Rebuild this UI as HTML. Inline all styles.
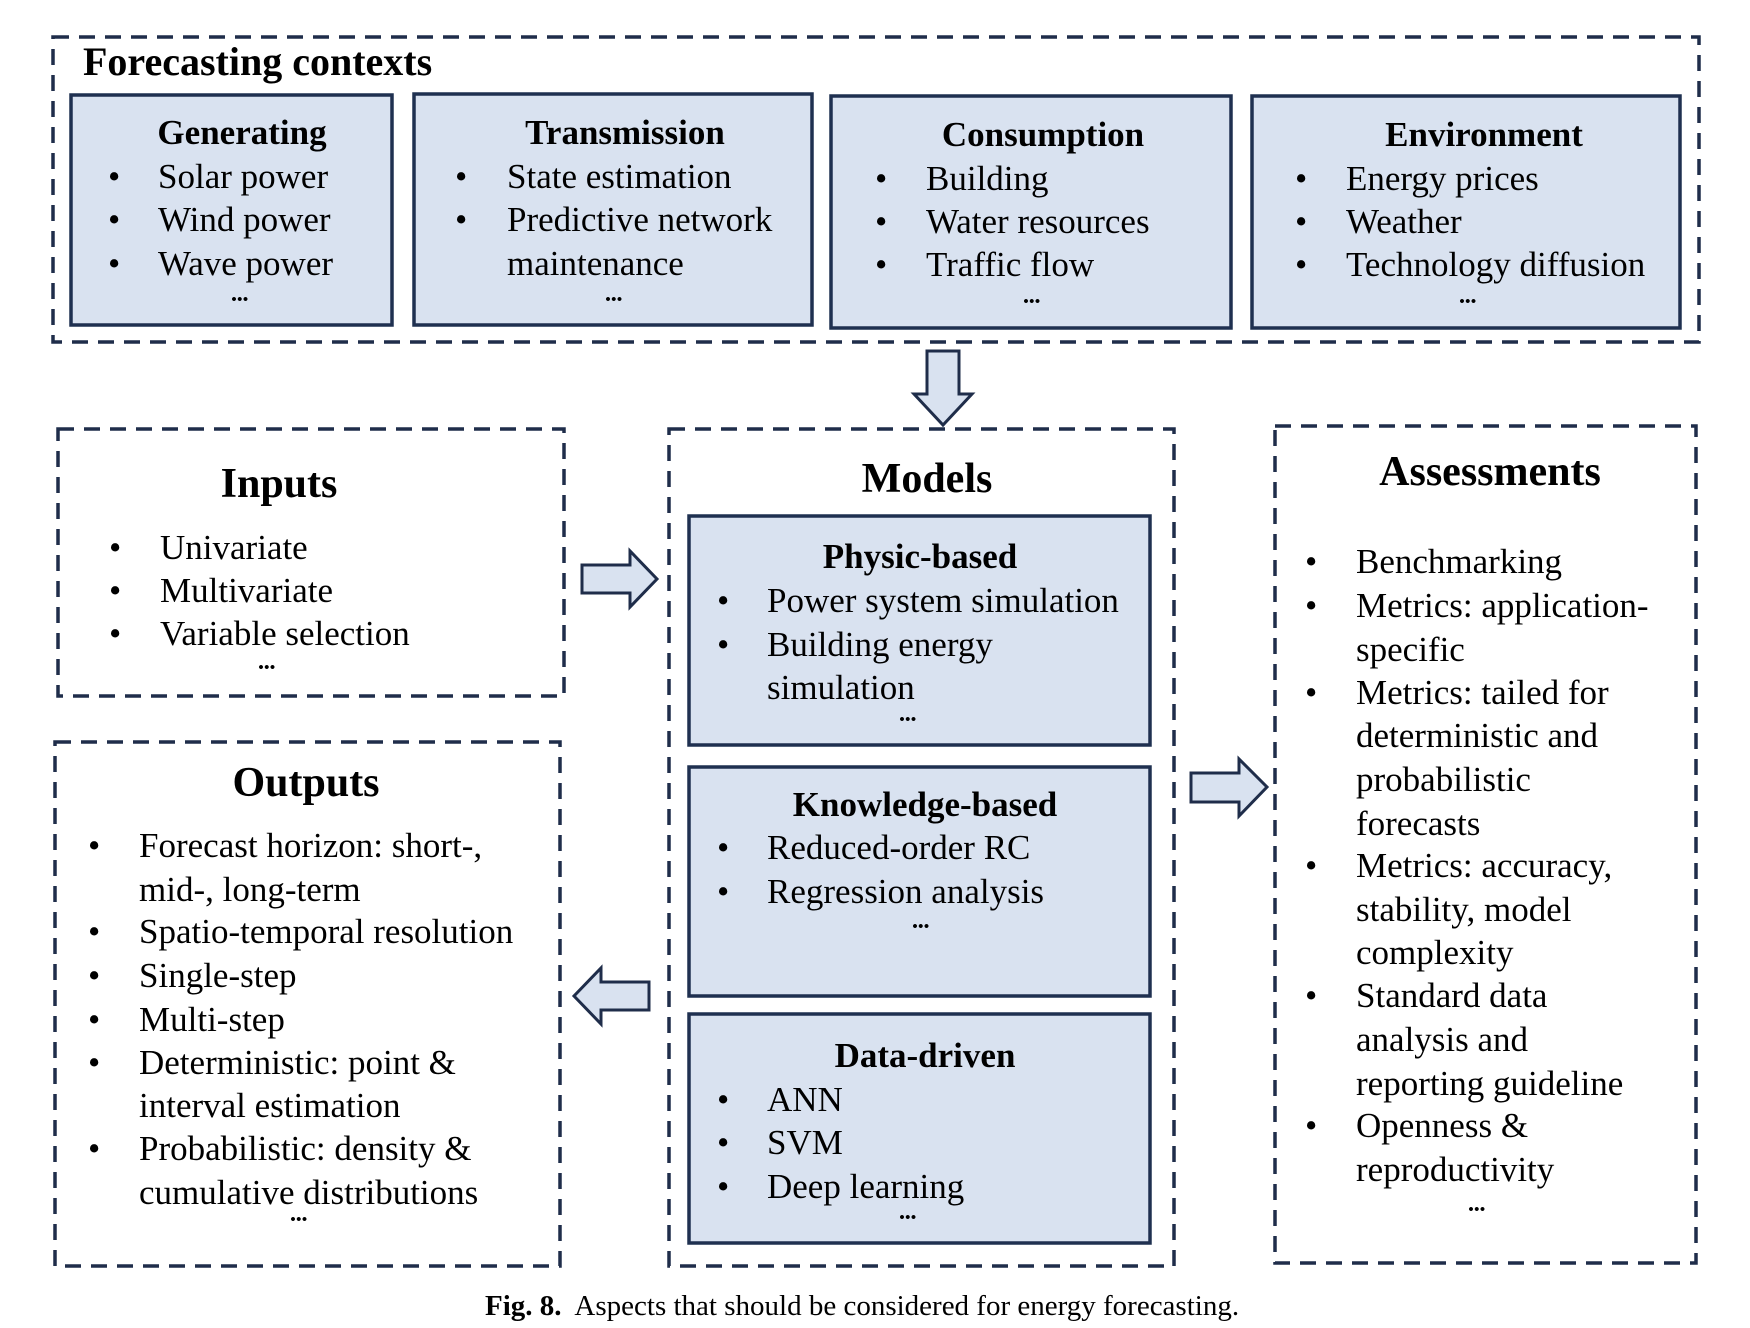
<!DOCTYPE html>
<html><head><meta charset="utf-8"><style>
body{margin:0;background:#fff;}
#c{position:relative;width:1750px;height:1328px;overflow:hidden;font-family:"Liberation Serif",serif;color:#000;}
.t{position:absolute;height:44px;line-height:44px;white-space:nowrap;font-size:35px;}
.h{position:absolute;height:44px;line-height:44px;white-space:nowrap;font-size:35px;font-weight:bold;transform:translateX(-50%);}
.T{position:absolute;height:50px;line-height:50px;white-space:nowrap;font-size:42px;font-weight:bold;transform:translateX(-50%);}
.d{position:absolute;height:20px;line-height:20px;font-size:15px;font-weight:bold;transform:translateX(-50%);letter-spacing:0.5px;}
</style></head><body><div id="c">
<svg width="1750" height="1328" style="position:absolute;left:0;top:0">
<g fill="none" stroke="#1f2d4a" stroke-width="3.5" stroke-dasharray="16 10">
<rect x="53" y="37" width="1646" height="305"/>
<rect x="58" y="429" width="506" height="267"/>
<rect x="55" y="742" width="505" height="524"/>
<rect x="669" y="429" width="505" height="837"/>
<rect x="1275" y="426" width="421" height="837"/>
</g>
<g fill="#d9e2f0" stroke="#1f3050" stroke-width="3.5">
<rect x="71" y="95" width="321" height="230"/>
<rect x="414" y="94" width="398" height="231"/>
<rect x="831" y="96" width="400" height="232"/>
<rect x="1252" y="96" width="428" height="232"/>
<rect x="689" y="516" width="461" height="229"/>
<rect x="689" y="767" width="461" height="229"/>
<rect x="689" y="1014" width="461" height="229"/>
</g>
<g fill="#d9e2f0" stroke="#1f2d4a" stroke-width="3">
<polygon points="927,351 959,351 959,394 972,394 943,425 914,394 927,394"/>
<polygon points="582,565 630,565 630,551 657,579 630,607 630,593 582,593"/>
<polygon points="1191,773 1239,773 1239,759 1267,787 1239,816 1239,802 1191,802"/>
<polygon points="649,982 601,982 601,968 574,996 601,1024 601,1010 649,1010"/>
</g>
</svg>
<div class="t" style="left:83px;top:40px;font-size:40px;font-weight:bold;">Forecasting contexts</div>

<div class="h" style="left:242px;top:111px">Generating</div>
<div class="t" style="left:108px;top:155px">•</div><div class="t" style="left:158px;top:155px">Solar power</div>
<div class="t" style="left:108px;top:198px">•</div><div class="t" style="left:158px;top:198px">Wind power</div>
<div class="t" style="left:108px;top:242px">•</div><div class="t" style="left:158px;top:242px">Wave power</div>
<div class="d" style="left:240px;top:290px">•••</div>

<div class="h" style="left:625px;top:111px">Transmission</div>
<div class="t" style="left:455px;top:155px">•</div><div class="t" style="left:507px;top:155px">State estimation</div>
<div class="t" style="left:455px;top:198px">•</div><div class="t" style="left:507px;top:198px">Predictive network</div>
<div class="t" style="left:507px;top:242px">maintenance</div>
<div class="d" style="left:614px;top:290px">•••</div>

<div class="h" style="left:1043px;top:113px">Consumption</div>
<div class="t" style="left:875px;top:157px">•</div><div class="t" style="left:926px;top:157px">Building</div>
<div class="t" style="left:875px;top:200px">•</div><div class="t" style="left:926px;top:200px">Water resources</div>
<div class="t" style="left:875px;top:243px">•</div><div class="t" style="left:926px;top:243px">Traffic flow</div>
<div class="d" style="left:1032px;top:292px">•••</div>

<div class="h" style="left:1484px;top:113px">Environment</div>
<div class="t" style="left:1295px;top:157px">•</div><div class="t" style="left:1346px;top:157px">Energy prices</div>
<div class="t" style="left:1295px;top:200px">•</div><div class="t" style="left:1346px;top:200px">Weather</div>
<div class="t" style="left:1295px;top:243px">•</div><div class="t" style="left:1346px;top:243px">Technology diffusion</div>
<div class="d" style="left:1468px;top:292px">•••</div>

<div class="T" style="left:279px;top:459px">Inputs</div>
<div class="t" style="left:109px;top:526px">•</div><div class="t" style="left:160px;top:526px">Univariate</div>
<div class="t" style="left:109px;top:569px">•</div><div class="t" style="left:160px;top:569px">Multivariate</div>
<div class="t" style="left:109px;top:612px">•</div><div class="t" style="left:160px;top:612px">Variable selection</div>
<div class="d" style="left:267px;top:658px">•••</div>

<div class="T" style="left:306px;top:758px">Outputs</div>
<div class="t" style="left:88px;top:824px">•</div><div class="t" style="left:139px;top:824px">Forecast horizon: short-,</div>
<div class="t" style="left:139px;top:868px">mid-, long-term</div>
<div class="t" style="left:88px;top:910px">•</div><div class="t" style="left:139px;top:910px">Spatio-temporal resolution</div>
<div class="t" style="left:88px;top:954px">•</div><div class="t" style="left:139px;top:954px">Single-step</div>
<div class="t" style="left:88px;top:998px">•</div><div class="t" style="left:139px;top:998px">Multi-step</div>
<div class="t" style="left:88px;top:1041px">•</div><div class="t" style="left:139px;top:1041px">Deterministic: point &amp;</div>
<div class="t" style="left:139px;top:1084px">interval estimation</div>
<div class="t" style="left:88px;top:1127px">•</div><div class="t" style="left:139px;top:1127px">Probabilistic: density &amp;</div>
<div class="t" style="left:139px;top:1171px">cumulative distributions</div>
<div class="d" style="left:299px;top:1210px">•••</div>

<div class="T" style="left:927px;top:454px">Models</div>
<div class="h" style="left:920px;top:535px">Physic-based</div>
<div class="t" style="left:717px;top:579px">•</div><div class="t" style="left:767px;top:579px">Power system simulation</div>
<div class="t" style="left:717px;top:623px">•</div><div class="t" style="left:767px;top:623px">Building energy</div>
<div class="t" style="left:767px;top:666px">simulation</div>
<div class="d" style="left:908px;top:710px">•••</div>

<div class="h" style="left:925px;top:783px">Knowledge-based</div>
<div class="t" style="left:717px;top:826px">•</div><div class="t" style="left:767px;top:826px">Reduced-order RC</div>
<div class="t" style="left:717px;top:870px">•</div><div class="t" style="left:767px;top:870px">Regression analysis</div>
<div class="d" style="left:921px;top:917px">•••</div>

<div class="h" style="left:925px;top:1034px">Data-driven</div>
<div class="t" style="left:717px;top:1078px">•</div><div class="t" style="left:767px;top:1078px">ANN</div>
<div class="t" style="left:717px;top:1121px">•</div><div class="t" style="left:767px;top:1121px">SVM</div>
<div class="t" style="left:717px;top:1165px">•</div><div class="t" style="left:767px;top:1165px">Deep learning</div>
<div class="d" style="left:908px;top:1208px">•••</div>

<div class="T" style="left:1490px;top:447px">Assessments</div>
<div class="t" style="left:1305px;top:540px">•</div><div class="t" style="left:1356px;top:540px">Benchmarking</div>
<div class="t" style="left:1305px;top:584px">•</div><div class="t" style="left:1356px;top:584px">Metrics: application-</div>
<div class="t" style="left:1356px;top:628px">specific</div>
<div class="t" style="left:1305px;top:671px">•</div><div class="t" style="left:1356px;top:671px">Metrics: tailed for</div>
<div class="t" style="left:1356px;top:714px">deterministic and</div>
<div class="t" style="left:1356px;top:758px">probabilistic</div>
<div class="t" style="left:1356px;top:802px">forecasts</div>
<div class="t" style="left:1305px;top:844px">•</div><div class="t" style="left:1356px;top:844px">Metrics: accuracy,</div>
<div class="t" style="left:1356px;top:888px">stability, model</div>
<div class="t" style="left:1356px;top:931px">complexity</div>
<div class="t" style="left:1305px;top:974px">•</div><div class="t" style="left:1356px;top:974px">Standard data</div>
<div class="t" style="left:1356px;top:1018px">analysis and</div>
<div class="t" style="left:1356px;top:1062px">reporting guideline</div>
<div class="t" style="left:1305px;top:1104px">•</div><div class="t" style="left:1356px;top:1104px">Openness &amp;</div>
<div class="t" style="left:1356px;top:1148px">reproductivity</div>
<div class="d" style="left:1477px;top:1200px">•••</div>

<div class="t" style="left:485px;top:1284px;font-size:29px"><b>Fig. 8.</b>&nbsp; Aspects that should be considered for energy forecasting.</div>
</div></body></html>
